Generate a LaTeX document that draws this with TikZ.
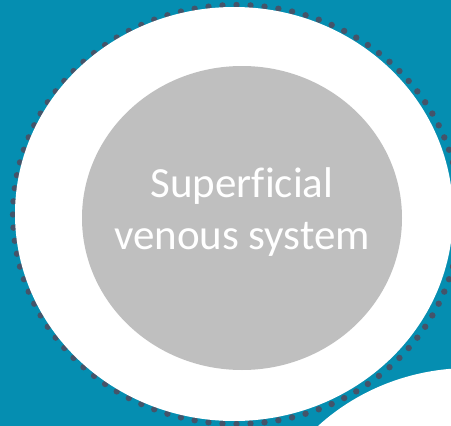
\documentclass[tikz,border=0pt]{standalone}
\usepackage{fontspec}
\setmainfont{Carlito}[Ligatures=NoCommon]
\usetikzlibrary{positioning,shapes.geometric}
\definecolor{seablue}{RGB}{5,142,177}
\definecolor{dotgray}{RGB}{68,84,106}
\definecolor{coregray}{RGB}{191,191,191}

\begin{document}
\begin{tikzpicture}[x=1pt,y=-1pt,
        disc/.style={shape=ellipse,inner sep=0pt,outer sep=0pt},
        bead/.style={fill=dotgray}]
                \useasboundingbox (0,0) rectangle (451,426);
                \clip (0,0) rectangle (451,426);
                \fill[seablue] (0,0) rectangle (451,426);
                \coordinate (ringc) at (236.5,214.5);
                \foreach \k in {0,...,99}
                    \fill[bead] ([shift={(ringc)}]\k*3.6:223.5 and 209.5) circle[radius=3.2pt];
                \node[disc,fill=white,minimum width=438,minimum height=414] (outer) at (234,214) {};
                \node[disc,fill=white,minimum width=438,minimum height=414] (next) at (470,575) {};
                \node[disc,fill=coregray,minimum width=320,minimum height=304] (core) at (242,218) {};
                \node[align=center,text=white,font=\fontsize{43}{52}\selectfont] (label) at (242,212.5) {Superficial\\venous system};
            \end{tikzpicture}
\end{document}
